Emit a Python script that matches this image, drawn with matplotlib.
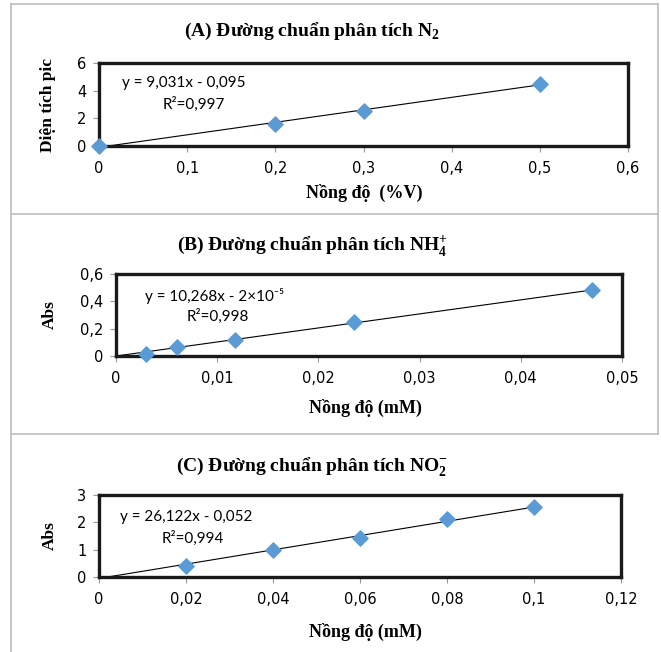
import numpy as np
import matplotlib
matplotlib.use('Agg')
import matplotlib.pyplot as plt
from matplotlib.lines import Line2D

plt.rcParams['mathtext.fontset'] = 'custom'
plt.rcParams['mathtext.rm'] = 'Liberation Serif'
plt.rcParams['mathtext.bf'] = 'Liberation Serif:bold'

W, H = 661, 652

# ---------------- data ----------------
xA = [0, 0.2, 0.3, 0.5]
yA = [0, 1.6, 2.5, 4.5]
slopeA, icptA = 9.031, -0.095

xB = [0.003, 0.006, 0.0118, 0.0235, 0.047]
yB = [0.015, 0.065, 0.12, 0.25, 0.48]
slopeB, icptB = 10.268, -0.00002

xC = [0.02, 0.04, 0.06, 0.08, 0.1]
yC = [0.42, 1.0, 1.42, 2.12, 2.55]
slopeC, icptC = 26.122, -0.052

xticksA = [0, 0.1, 0.2, 0.3, 0.4, 0.5, 0.6]
xlabA = ['0', '0,1', '0,2', '0,3', '0,4', '0,5', '0,6']
yticksA = [0, 2, 4, 6]
ylabA = ['0', '2', '4', '6']

xticksB = [0, 0.01, 0.02, 0.03, 0.04, 0.05]
xlabB = ['0', '0,01', '0,02', '0,03', '0,04', '0,05']
yticksB = [0, 0.2, 0.4, 0.6]
ylabB = ['0', '0,2', '0,4', '0,6']

xticksC = [0, 0.02, 0.04, 0.06, 0.08, 0.1, 0.12]
xlabC = ['0', '0,02', '0,04', '0,06', '0,08', '0,1', '0,12']
yticksC = [0, 1, 2, 3]
ylabC = ['0', '1', '2', '3']

titles = [r'(A) Đường chuẩn phân tích N$_{\mathbf{2}}$',
          r'(B) Đường chuẩn phân tích NH$_{\mathbf{4}}^{\mathbf{+}}$',
          r'(C) Đường chuẩn phân tích NO$_{\mathbf{2}}^{\mathbf{-}}$']
xlabels = ['Nồng độ  (%V)', 'Nồng độ (mM)', 'Nồng độ (mM)']
ylabels = ['Diện tích pic', 'Abs', 'Abs']
eqs = ['y = 9,031x - 0,095', 'y = 10,268x - 2×10⁻⁵', 'y = 26,122x - 0,052']
r2s = ['R²=0,997', 'R²=0,998', 'R²=0,994']

fig = plt.figure(figsize=(W / 100, H / 100), dpi=100)

def fx(x):
    return x / W

def fy(y):
    return 1 - y / H

# panel frames (gray)
gray = '#BDBDBD'
for seg in [((11, 11), (4, 652)), ((11, 658), (4, 4)), ((658, 658), (4, 434)),
            ((11, 658), (214, 214)), ((11, 658), (434, 434))]:
    fig.add_artist(Line2D([fx(v) for v in seg[0]], [fy(v) for v in seg[1]],
                          color=gray, lw=1.2))

# axes boxes in pixels: left, right, top, bottom
boxes = [(99, 628, 63, 146), (116, 622, 274, 356), (99, 621, 495, 577)]
data = [(xA, yA, slopeA, icptA), (xB, yB, slopeB, icptB), (xC, yC, slopeC, icptC)]
ticks = [(xticksA, xlabA, yticksA, ylabA), (xticksB, xlabB, yticksB, ylabB),
         (xticksC, xlabC, yticksC, ylabC)]
title_y = [31, 246, 467]
xlab_y = [193, 408, 632]
ylab_x = [48, 50, 50]
eq_pos = [(122, 83), (145, 296), (120, 517)]
r2_pos = [(163, 104), (187, 316), (162, 538)]

for i in range(3):
    l, r, t, b = boxes[i]
    ax = fig.add_axes([fx(l), fy(b), (r - l) / W, (b - t) / H])
    x, y, m, c = data[i]
    xt, xl, yt, yl = ticks[i]
    xs = np.array([0, max(x)])
    ax.plot(xs, m * xs + c, color='black', lw=0.8, zorder=2)
    ax.scatter(x, y, marker='D', s=60, color='#5B9BD5', zorder=3, clip_on=False)
    ax.set_xlim(xt[0], xt[-1])
    ax.set_ylim(yt[0], yt[-1])
    ax.set_xticks(xt)
    ax.set_xticklabels(xl)
    ax.set_yticks(yt)
    ax.set_yticklabels(yl)
    for lab in ax.get_xticklabels() + ax.get_yticklabels():
        lab.set_family('DejaVu Sans')
        lab.set_fontsize(10.5)
    ax.tick_params(direction='out', length=4, width=0.8, color='#999999',
                   pad=7)
    ax.tick_params(axis='y', pad=5)
    for sp in ax.spines.values():
        sp.set_color('#1a1a1a')
        sp.set_linewidth(2.4)
    fig.text(fx(312), fy(title_y[i]), titles[i], family='Liberation Serif',
             weight='bold', fontsize=14, ha='center', va='center')
    fig.text(fx(364 if i == 0 else 365), fy(xlab_y[i]), xlabels[i],
             family='Liberation Serif', weight='bold', fontsize=13,
             ha='center', va='center')
    fig.text(fx(ylab_x[i]), fy((t + b) / 2), ylabels[i], family='Liberation Serif',
             weight='bold', fontsize=12.5, ha='center', va='center', rotation=90)
    fig.text(fx(eq_pos[i][0]), fy(eq_pos[i][1]), eqs[i], family=['Lato', 'DejaVu Sans'],
             fontsize=11, ha='left', va='center')
    fig.text(fx(r2_pos[i][0]), fy(r2_pos[i][1]), r2s[i], family=['Lato', 'DejaVu Sans'],
             fontsize=11, ha='left', va='center')

fig.savefig('out.png', dpi=100)
